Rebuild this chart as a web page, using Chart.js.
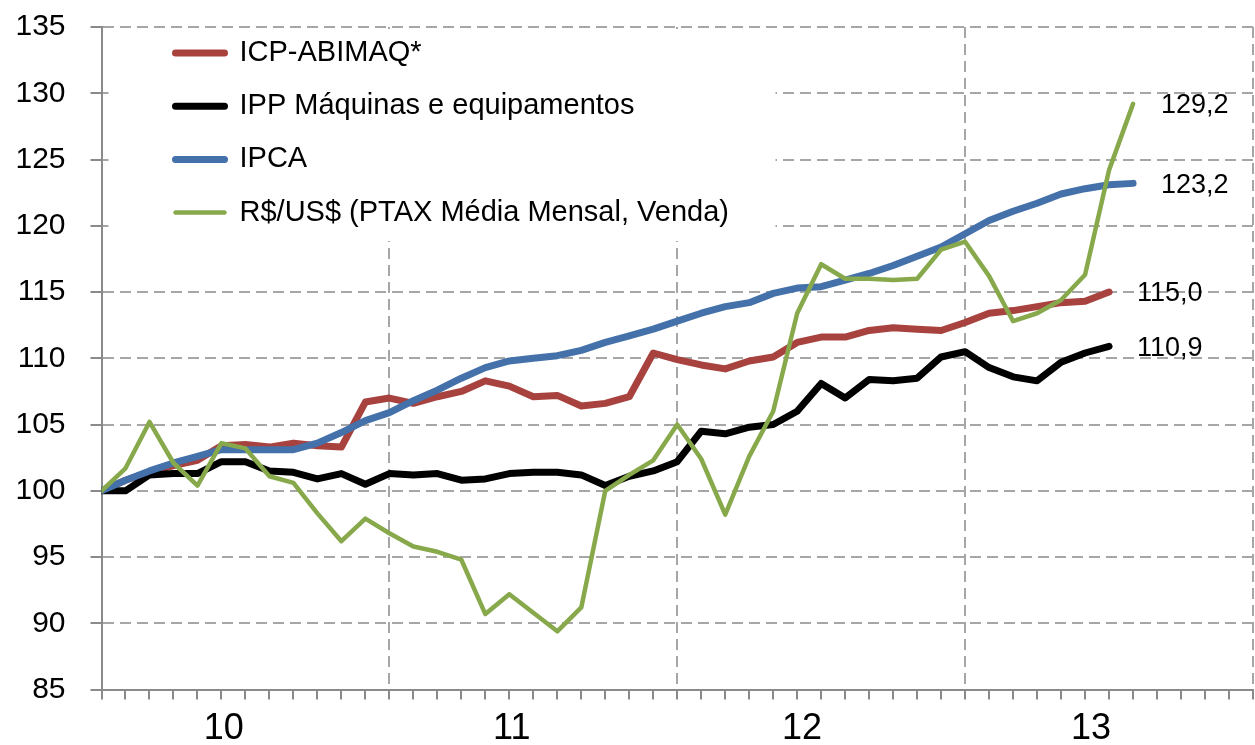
<!DOCTYPE html>
<html>
<head>
<meta charset="utf-8">
<title>ICP-ABIMAQ, IPP, IPCA e câmbio</title>
<script src="https://cdn.jsdelivr.net/npm/chart.js@4.4.1/dist/chart.umd.min.js"></script>
<style>
  html, body { margin: 0; padding: 0; background: #fff; }
  canvas { display: block; }
</style>
</head>
<body>
<canvas id="chart" width="1255" height="745"></canvas>
<script>
// meses (dez/09 = 100)
const months = [
    'dez/09',
    'jan/10', 'fev/10', 'mar/10', 'abr/10', 'mai/10', 'jun/10', 'jul/10', 'ago/10', 'set/10', 'out/10', 'nov/10', 'dez/10',
    'jan/11', 'fev/11', 'mar/11', 'abr/11', 'mai/11', 'jun/11', 'jul/11', 'ago/11', 'set/11', 'out/11', 'nov/11', 'dez/11',
    'jan/12', 'fev/12', 'mar/12', 'abr/12', 'mai/12', 'jun/12', 'jul/12', 'ago/12', 'set/12', 'out/12', 'nov/12', 'dez/12',
    'jan/13', 'fev/13', 'mar/13', 'abr/13', 'mai/13', 'jun/13', 'jul/13'
];
const yearLabels = ['10', '11', '12', '13'];
const yTicks = [85, 90, 95, 100, 105, 110, 115, 120, 125, 130, 135];

const icpAbimaq = [100.0, 100.8, 101.4, 101.9, 102.3, 103.4, 103.5, 103.3, 103.6, 103.4, 103.3, 106.7,
    107.0, 106.6, 107.1, 107.5, 108.3, 107.9, 107.1, 107.2, 106.4, 106.6, 107.1, 110.4,
    109.9, 109.5, 109.2, 109.8, 110.1, 111.2, 111.6, 111.6, 112.1, 112.3, 112.2, 112.1,
    112.7, 113.4, 113.6, 113.9, 114.2, 114.3, 115.0];
const ippMaquinas = [100.0, 100.0, 101.2, 101.3, 101.3, 102.2, 102.2, 101.5, 101.4, 100.9, 101.3, 100.5,
    101.3, 101.2, 101.3, 100.8, 100.9, 101.3, 101.4, 101.4, 101.2, 100.4, 101.1, 101.5,
    102.2, 104.5, 104.3, 104.8, 105.0, 106.0, 108.1, 107.0, 108.4, 108.3, 108.5, 110.1,
    110.5, 109.3, 108.6, 108.3, 109.7, 110.4, 110.9];
const ipca = [100.0, 100.8, 101.5, 102.1, 102.6, 103.1, 103.1, 103.1, 103.1, 103.6, 104.4, 105.3,
    105.9, 106.8, 107.6, 108.5, 109.3, 109.8, 110.0, 110.2, 110.6, 111.2, 111.7, 112.2,
    112.8, 113.4, 113.9, 114.2, 114.9, 115.3, 115.4, 115.9, 116.4, 117.0, 117.7, 118.4,
    119.4, 120.4, 121.1, 121.7, 122.4, 122.8, 123.1, 123.2];
const cambio = [100.0, 101.7, 105.2, 102.1, 100.4, 103.6, 103.2, 101.1, 100.6, 98.3, 96.2, 97.9,
    96.8, 95.8, 95.4, 94.8, 90.7, 92.2, 90.8, 89.4, 91.2, 100.0, 101.2, 102.3,
    105.0, 102.4, 98.2, 102.6, 106.0, 113.4, 117.1, 116.0, 116.0, 115.9, 116.0, 118.2,
    118.8, 116.2, 112.8, 113.4, 114.4, 116.3, 124.2, 129.2];

const seriesNames = ['ICP-ABIMAQ*', 'IPP Máquinas e equipamentos', 'IPCA', 'R$/US$ (PTAX Média Mensal, Venda)'];
const seriesValues = [icpAbimaq, ippMaquinas, ipca, cambio];
const seriesColors = ['#A7423F', '#000000', '#4471A9', '#87A94B'];
const seriesWidths = [7, 7, 7, 4.5];

// where the year names sit on the month axis (Excel put them a bit left of mid-year)
const yearLabelAt = [5.1, 17.1, 29.2, 41.25];

const FONT = "'Liberation Sans', Arial, sans-serif";
const GRID = '#A6A6A6';
const AXIS = '#8A8A8A';

// legend drawn inside the plot, on a white box that hides the grid
const insideLegend = {
    id: 'insideLegend',
    beforeDatasetsDraw(chart, args, opts) {
        const { ctx, chartArea } = chart;
        ctx.save();
        ctx.fillStyle = '#fff';
        ctx.fillRect(chartArea.left + 7, chartArea.top + 2, 667, 212);
        ctx.font = opts.font;
        ctx.textBaseline = 'middle';
        ctx.textAlign = 'left';
        chart.data.datasets.forEach((ds, i) => {
            const y = chartArea.top + 26 + i * 53.2;
            const x = chartArea.left + 74;
            ctx.strokeStyle = ds.borderColor;
            ctx.lineWidth = ds.borderWidth;
            ctx.lineCap = 'round';
            ctx.beginPath();
            ctx.moveTo(x, y);
            ctx.lineTo(x + 49, y);
            ctx.stroke();
            ctx.fillStyle = '#000';
            ctx.fillText(ds.label, chartArea.left + 138, y);
        });
        ctx.restore();
    }
};

// last value of each series written to the right of its line
const endLabels = {
    id: 'endLabels',
    afterDatasetsDraw(chart, args, opts) {
        const { ctx } = chart;
        ctx.save();
        ctx.font = opts.font;
        ctx.fillStyle = '#000';
        ctx.textBaseline = 'middle';
        ctx.textAlign = 'left';
        chart.data.datasets.forEach((ds, i) => {
            const meta = chart.getDatasetMeta(i);
            const pt = meta.data[meta.data.length - 1];
            const v = ds.data[ds.data.length - 1].y;
            ctx.fillText(v.toFixed(1).replace('.', ','), pt.x + 28, pt.y + 2);
        });
        ctx.restore();
    }
};

const datasets = seriesNames.map((name, i) => ({
    label: name,
    data: seriesValues[i].map((v, k) => ({ x: k, y: v })),
    borderColor: seriesColors[i],
    backgroundColor: seriesColors[i],
    borderWidth: seriesWidths[i],
    borderJoinStyle: 'round',
    borderCapStyle: 'round',
    pointRadius: 0,
    tension: 0,
    fill: false,
    order: 4 - i
}));

const config = {
    type: 'line',
    data: { datasets: datasets },
    options: {
        responsive: false,
        animation: false,
        events: [],
        layout: { autoPadding: false, padding: { left: 15, right: 2, top: 27, bottom: 0 } },
        plugins: {
            legend: { display: false },
            tooltip: { enabled: false },
            insideLegend: { font: '29px ' + FONT },
            endLabels: { font: '27px ' + FONT }
        },
        scales: {
            x: {
                type: 'linear',
                min: 0,
                max: months.length + 4,
                afterBuildTicks: axis => {
                    const t = [];
                    for (let m = 0; m <= months.length + 4; m++) t.push(m);
                    yearLabelAt.forEach(v => t.push(v));
                    t.sort((a, b) => a - b);
                    axis.ticks = t.map(v => ({ value: v }));
                },
                afterFit: axis => {
                    axis.height = 55.4;
                    axis.paddingLeft = 0;
                    axis.paddingRight = 0;
                },
                ticks: {
                    autoSkip: false,
                    maxRotation: 0,
                    minRotation: 0,
                    padding: 13,
                    color: '#000',
                    font: { family: FONT, size: 36, lineHeight: 0.9 },
                    callback: v => {
                        const k = yearLabelAt.indexOf(v);
                        return k >= 0 ? yearLabels[k] : '';
                    }
                },
                grid: {
                    lineWidth: 2,
                    tickLength: 10,
                    tickWidth: 2,
                    color: c => (c.tick && c.tick.value > 0 && c.tick.value % 12 === 0) ? GRID : 'rgba(0,0,0,0)',
                    tickColor: c => (c.tick && Number.isInteger(c.tick.value)) ? AXIS : 'rgba(0,0,0,0)'
                },
                border: { color: AXIS, width: 2, dash: [11, 6] }
            },
            y: {
                min: yTicks[0],
                max: yTicks[yTicks.length - 1],
                afterFit: axis => {
                    axis.width = 86.5;
                    axis.paddingTop = 0;
                    axis.paddingBottom = 0;
                },
                ticks: {
                    stepSize: 5,
                    padding: 25,
                    color: '#000',
                    font: { family: FONT, size: 30 }
                },
                grid: {
                    lineWidth: 2,
                    tickLength: 11,
                    tickWidth: 2,
                    tickColor: AXIS,
                    color: c => (c.tick && c.tick.value === yTicks[0]) ? 'rgba(0,0,0,0)' : GRID
                },
                border: { color: AXIS, width: 2, dash: [11, 6] }
            }
        }
    },
    plugins: [insideLegend, endLabels]
};

window.onload = function () {
    const ctx = document.getElementById('chart').getContext('2d');
    window.myChart = new Chart(ctx, config);
};
</script>
</body>
</html>
